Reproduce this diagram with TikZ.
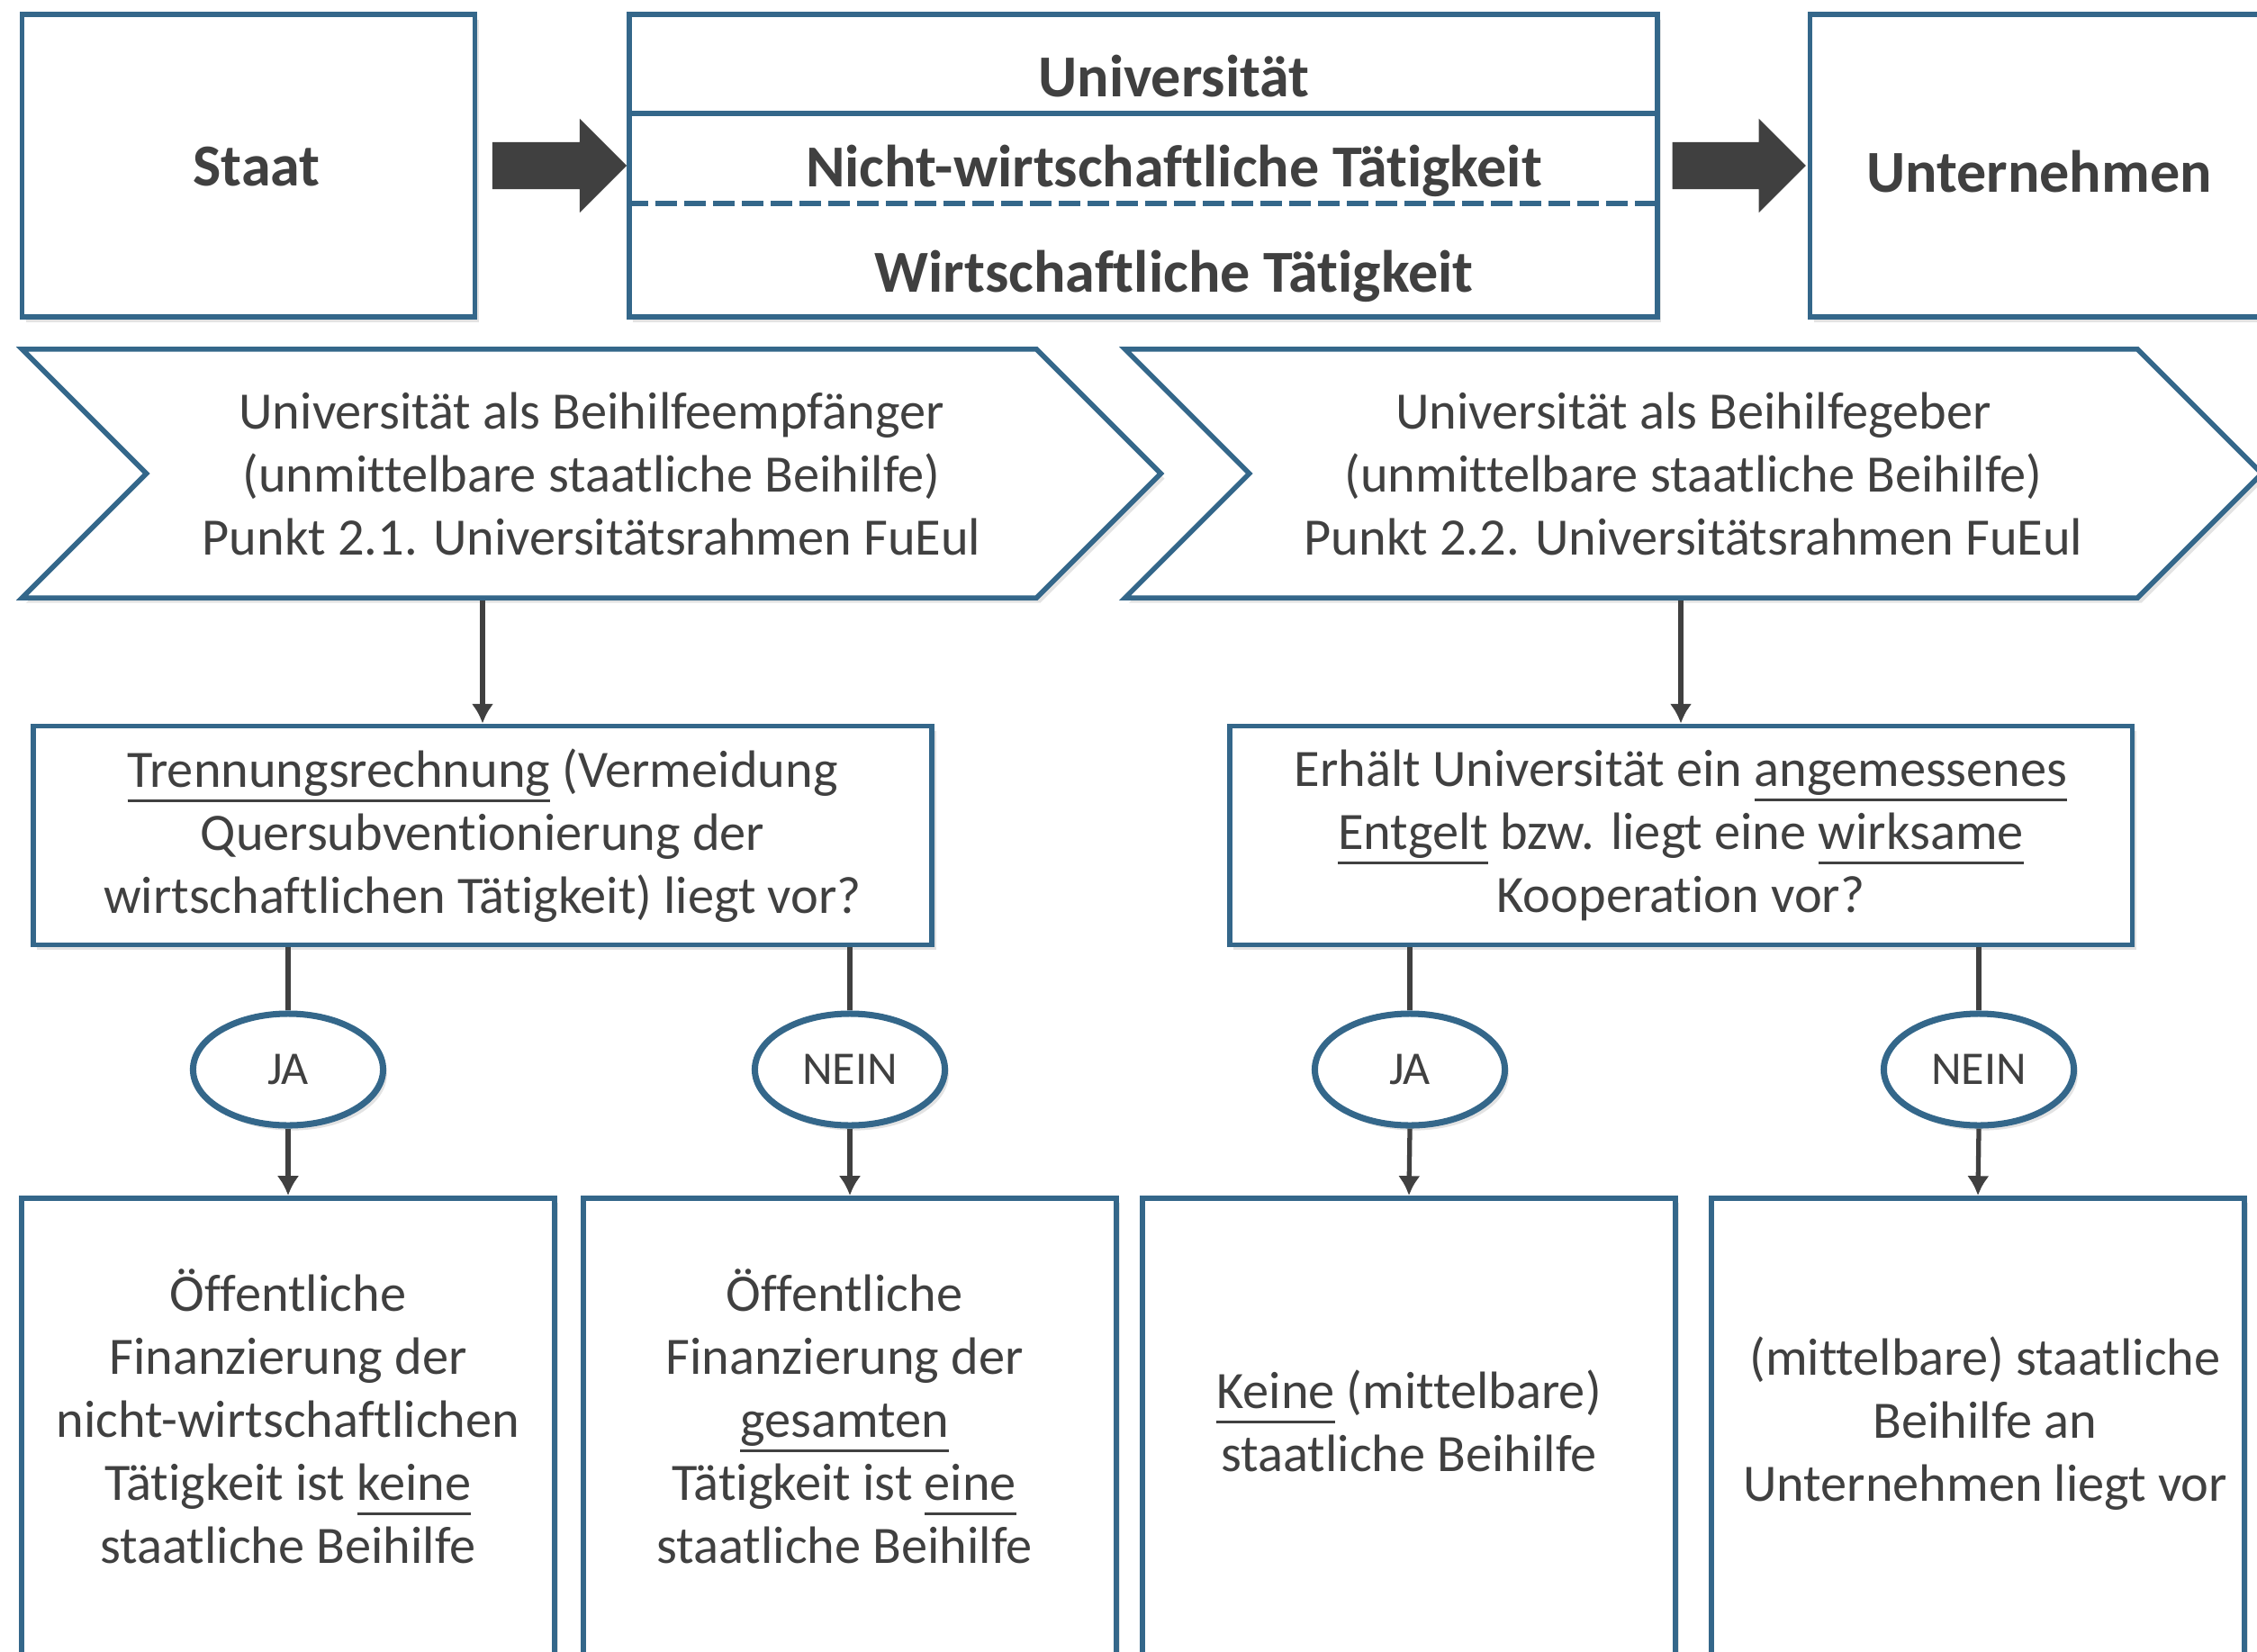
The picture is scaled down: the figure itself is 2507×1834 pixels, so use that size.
\documentclass[tikz,border=0pt]{standalone}
\usepackage{fontspec}
\setmainfont[Ligatures={NoCommon}]{Carlito}
\usepackage{tikz}
\usetikzlibrary{shapes, shapes.arrows, arrows.meta, shadows, calc}

\definecolor{boxblue}{RGB}{52,103,138}
\definecolor{txtgray}{RGB}{64,64,64}

\newcommand{\txtbody}{\fontsize{16.6}{19.9}\selectfont}
\newcommand{\txthead}{\fontsize{18.8}{22}\selectfont\bfseries}
\newcommand{\txtsmall}{\fontsize{14.8}{17}\selectfont}
\newsavebox{\ulbox}
\newcommand{\ulword}[1]{\sbox{\ulbox}{#1}\rlap{\rule[-4.8pt]{\wd\ulbox}{0.9pt}}\usebox{\ulbox}}

\tikzset{
	boxshadow/.style={drop shadow={shadow xshift=1.2pt, shadow yshift=-1.6pt, opacity=0.22}},
	box/.style={draw=boxblue, line width=1.6pt, fill=white, boxshadow, text=txtgray, inner sep=0pt},
	chevron/.style={box, signal, signal from=west, signal to=east, signal pointer angle=90, font=\txtbody, align=center},
	question/.style={box, font=\txtbody, align=center},
	result/.style={box, anchor=north, minimum width=5.92cm, minimum height=5.4cm},
	restext/.style={text=txtgray, font=\txtbody, align=center, inner sep=0pt},
	headtext/.style={text=txtgray, font=\txthead, anchor=base, inner sep=0pt},
	yesno/.style={ellipse, draw=boxblue, line width=2pt, fill=white, boxshadow, text=txtgray, font=\txtsmall, inner sep=0pt, minimum width=2.11cm, minimum height=1.24cm},
	bigarrow/.style={single arrow, fill=txtgray, inner xsep=0pt, inner ysep=0.255cm, single arrow head extend=0.26cm},
	conn/.style={draw=txtgray, line width=1.5pt},
	arr/.style={conn, -{Latex[length=6.2pt, width=7pt]}},
}

\begin{document}
\begin{tikzpicture}[x=0.01cm, y=-0.01cm]
	\useasboundingbox (0,0) rectangle (2507,1834);
	
	% Top row
	\node[box, font=\txthead, text height=13pt, text depth=0pt, minimum width=5.03cm, minimum height=3.36cm] (staat) at (276,184) {\hspace{0.18cm}Staat};
	\node[box, minimum width=11.41cm, minimum height=3.36cm] (uni) at (1270,184) {};
	\draw[boxblue, line width=1.9pt] (uni.west |- 0,126) -- (uni.east |- 0,126);
	\draw[boxblue, line width=1.9pt, dash pattern=on 6.8pt off 2.3pt] (uni.west |- 0,226) -- (uni.east |- 0,226);
	\node[headtext] (uniname) at (1304,108) {Universität};
	\node[headtext] (nonecon) at (1304,208) {Nicht-wirtschaftliche Tätigkeit};
	\node[headtext] (econ) at (1304,325) {Wirtschaftliche Tätigkeit};
	\node[box, font=\txthead, text height=16.5pt, text depth=0pt, minimum width=5.09cm, minimum height=3.36cm] (firm) at (2265,184) {Unternehmen};
	
	% Block arrows
	\node[bigarrow, minimum height=1.49cm, xshift=-0.05cm] (flow1) at ($(staat.east)!0.5!(uni.west)$) {};
	\node[bigarrow, minimum height=1.48cm, xshift=-0.07cm] (flow2) at ($(uni.east)!0.5!(firm.west)$) {};
	
	% Chevrons
	\node[chevron, minimum width=12.64cm, minimum height=2.76cm] (recv) at (657,526)
		{Universität als Beihilfeempfänger\\(unmittelbare staatliche Beihilfe)\\Punkt 2.1. Universitätsrahmen FuEul};
	\node[chevron, minimum width=12.62cm, minimum height=2.76cm] (give) at (1881,526)
		{Universität als Beihilfegeber\\(unmittelbare staatliche Beihilfe)\\Punkt 2.2. Universitätsrahmen FuEul};
	
	% Questions
	\node[question, minimum width=9.98cm, minimum height=2.43cm] (q1) at (536,928)
		{\ulword{Trennungsrechnung} (Vermeidung\\Quersubventionierung der\\wirtschaftlichen Tätigkeit) liegt vor?};
	\node[question, minimum width=10.02cm, minimum height=2.43cm] (q2) at (1867,928)
		{Erhält Universität ein \ulword{angemessenes}\\\ulword{Entgelt} bzw. liegt eine \ulword{wirksame}\\Kooperation vor?};
	\draw[arr] (q1.north |- recv.south) -- (q1.north);
	\draw[arr] (q2.north |- give.south) -- (q2.north);
	
	% JA / NEIN
	\node[yesno] (ja1) at (320,1188) {JA};
	\node[yesno] (nein1) at (944,1188) {NEIN};
	\node[yesno] (ja2) at (1566,1188) {JA};
	\node[yesno] (nein2) at (2198,1188) {NEIN};
	\draw[conn] (q1.south -| ja1) -- (ja1.north);
	\draw[conn] (q1.south -| nein1) -- (nein1.north);
	\draw[conn] (q2.south -| ja2) -- (ja2.north);
	\draw[conn] (q2.south -| nein2) -- (nein2.north);
	
	% Results
	\node[result] (r1) at (320,1328) {};
	\node[result] (r2) at (944,1328) {};
	\node[result] (r3) at (1565,1328) {};
	\node[result] (r4) at (2197,1328) {};
	\draw[arr] (ja1.south) -- (r1.north);
	\draw[arr] (nein1.south) -- (r2.north);
	\draw[arr] (ja2.south) -- (r3.north);
	\draw[arr] (nein2.south) -- (r4.north);
	\node[restext] (t1) at ($(r1.north)+(0,245)$)
		{Öffentliche\\Finanzierung der\\nicht-wirtschaftlichen\\Tätigkeit ist \ulword{keine}\\staatliche Beihilfe};
	\node[restext] (t2) at ($(r2.north)+(-6,245)$)
		{Öffentliche\\Finanzierung der\\\ulword{gesamten}\\Tätigkeit ist \ulword{eine}\\staatliche Beihilfe};
	\node[restext] (t3) at ($(r3.north)+(0,250)$)
		{\ulword{Keine} (mittelbare)\\staatliche Beihilfe};
	\node[restext] (t4) at ($(r4.north)+(8,253)$)
		{(mittelbare) staatliche\\Beihilfe an\\Unternehmen liegt vor};
	
\end{tikzpicture}
\end{document}
